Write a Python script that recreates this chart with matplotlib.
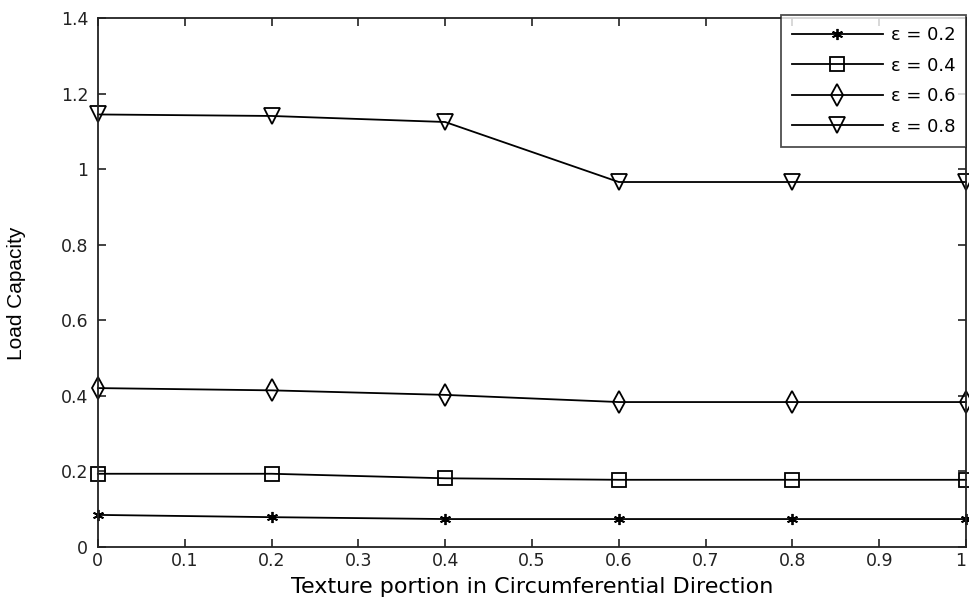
import numpy as np
import matplotlib
matplotlib.use('Agg')
import matplotlib.pyplot as plt
from matplotlib import font_manager

# texture portion along the circumference
portion = [0, 0.2, 0.4, 0.6, 0.8, 1.0]

# load capacity for each eccentricity ratio
load_e02 = [0.084, 0.078, 0.073, 0.073, 0.073, 0.073]
load_e04 = [0.193, 0.193, 0.181, 0.177, 0.177, 0.177]
load_e06 = [0.420, 0.414, 0.402, 0.383, 0.383, 0.383]
load_e08 = [1.145, 1.141, 1.125, 0.966, 0.966, 0.966]

eps_labels = ['\u03b5 = 0.2', '\u03b5 = 0.4', '\u03b5 = 0.6', '\u03b5 = 0.8']

plt.rcParams['font.family'] = ['DejaVu Sans']

fig = plt.figure(figsize=(9.69, 6.07), dpi=100)
ax = fig.add_axes([0.101, 0.0995, 0.896, 0.8705])

lw = 1.3
ax.plot(portion, load_e02, color='k', lw=lw, marker=(6, 2, 0), ms=8, mew=1.3,
        label=eps_labels[0], clip_on=False)
ax.plot(portion, load_e04, color='k', lw=lw, marker='s', ms=10, mfc='none', mew=1.3,
        label=eps_labels[1], clip_on=False)
ax.plot(portion, load_e06, color='k', lw=lw, marker='d', ms=11, mfc='none', mew=1.3,
        label=eps_labels[2], clip_on=False)
ax.plot(portion, load_e08, color='k', lw=lw, marker='v', ms=12, mfc='none', mew=1.3,
        label=eps_labels[3], clip_on=False)

ax.set_xlim(0, 1)
ax.set_ylim(0, 1.4)
ax.set_xticks(np.arange(0, 1.01, 0.1))
ax.set_xticklabels(['0', '0.1', '0.2', '0.3', '0.4', '0.5', '0.6', '0.7', '0.8', '0.9', '1'])
ax.set_yticks(np.arange(0, 1.41, 0.2))
ax.set_yticklabels(['0', '0.2', '0.4', '0.6', '0.8', '1', '1.2', '1.4'])
ax.tick_params(direction='in', top=True, right=True, length=6, width=1.2,
               labelsize=12.5, colors='#222222')
ax.tick_params(axis='x', pad=4)
ax.tick_params(axis='y', pad=7)
# the last x label sits against the right edge of the figure
ax.get_xticklabels()[-1].set_horizontalalignment('right')
for s in ax.spines.values():
    s.set_linewidth(1.3)
    s.set_color('#222222')

ax.set_xlabel('Texture portion in Circumferential Direction', fontsize=16, labelpad=5)
narrow = font_manager.FontProperties(family=['Liberation Sans Narrow', 'Liberation Sans'], size=15)
ax.set_ylabel('Load Capacity', fontproperties=narrow)
ax.yaxis.set_label_coords(-0.083, 0.48)

leg = ax.legend(loc='upper right', bbox_to_anchor=(1.0, 1.006), fontsize=13,
                frameon=True, fancybox=False, edgecolor='#222222', handlelength=5.0,
                borderaxespad=0, borderpad=0.6, labelspacing=0.7, handletextpad=0.45)
leg.get_frame().set_linewidth(1.3)

fig.savefig('out.png', dpi=100, facecolor='white')
